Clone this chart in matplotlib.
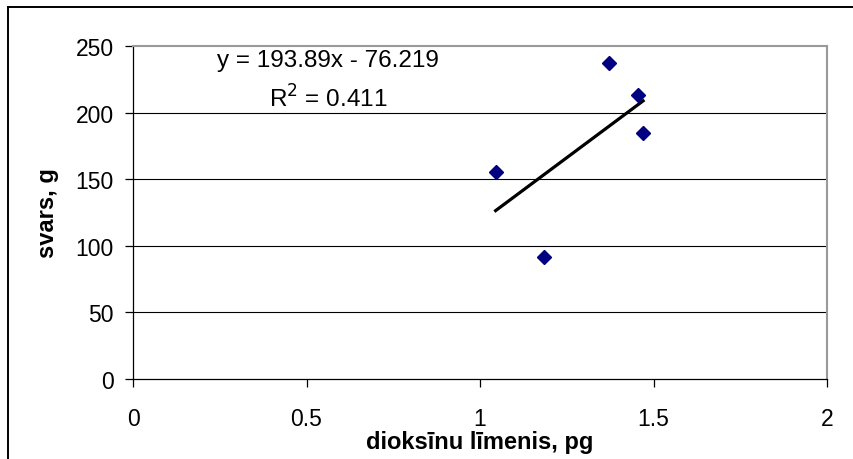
import numpy as np
import matplotlib
matplotlib.use('Agg')
import matplotlib.pyplot as plt
from matplotlib.lines import Line2D

# dioxin level (pg) vs weight (g)
dioxin = [1.045, 1.184, 1.373, 1.454, 1.470]
weight = [155.5, 91.8, 237.5, 213.5, 185.0]

# trendline as shown on the chart
slope = 193.89
intercept = -76.219
r2 = 0.411

x_ticks = [0, 0.5, 1, 1.5, 2]
y_ticks = [0, 50, 100, 150, 200, 250]

plt.rcParams['font.family'] = ['Liberation Sans', 'DejaVu Sans']

fig = plt.figure(figsize=(8.54, 4.60), dpi=100)
ax = fig.add_axes([133 / 854, 1 - 380 / 460, 694 / 854, 333 / 460])

for y in y_ticks[1:-1]:
    ax.axhline(y, color='black', lw=0.8, zorder=1)

xs = np.array([min(dioxin), max(dioxin)])
ax.plot(xs, slope * xs + intercept, color='black', lw=2.3, zorder=2)
ax.plot(dioxin, weight, 'D', color='#000080', ms=6.8, mec='#000080', zorder=3)

ax.set_xlim(0, 2)
ax.set_ylim(0, 250)
ax.set_xticks(x_ticks)
ax.set_xticklabels(['0', '0.5', '1', '1.5', '2'])
ax.set_yticks(y_ticks)

for side in ['top', 'right']:
    ax.spines[side].set_color('#999999')
    ax.spines[side].set_linewidth(1.5)
for side in ['left', 'bottom']:
    ax.spines[side].set_color('black')
    ax.spines[side].set_linewidth(0.9)

ax.tick_params(axis='both', direction='out', length=6, width=0.9, labelsize=16.5)
ax.tick_params(axis='x', pad=14)
ax.tick_params(axis='y', pad=8)

ax.set_xlabel('dioksīnu līmenis, pg', fontsize=17, fontweight='bold', labelpad=0)
ax.set_ylabel('svars, g', fontsize=17, fontweight='bold', labelpad=12)

ax.text(0.281, 0.958, 'y = %.2fx - %.3f' % (slope, -intercept),
        transform=ax.transAxes, ha='center', va='center', fontsize=17.5)
ax.text(0.281, 0.845, 'R$^2$ = %.3f' % r2,
        transform=ax.transAxes, ha='center', va='center', fontsize=17.5)

# outer chart frame (only left and top edges visible)
fx = 8 / 854
fy = 1 - 8 / 460
fig.add_artist(Line2D([fx, fx], [0, fy], color='black', lw=1.4, transform=fig.transFigure))
fig.add_artist(Line2D([fx, 1], [fy, fy], color='black', lw=1.4, transform=fig.transFigure))

fig.savefig('out.png', dpi=100)
